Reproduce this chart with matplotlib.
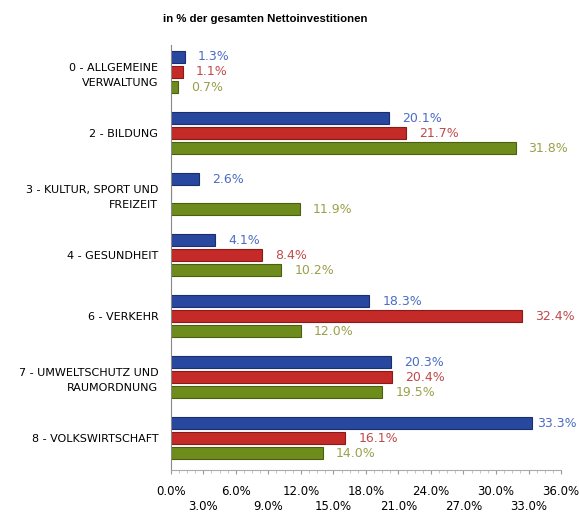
import numpy as np
import matplotlib.pyplot as plt
from matplotlib.ticker import MultipleLocator

categories = [
    "0 - ALLGEMEINE\nVERWALTUNG",
    "2 - BILDUNG",
    "3 - KULTUR, SPORT UND\nFREIZEIT",
    "4 - GESUNDHEIT",
    "6 - VERKEHR",
    "7 - UMWELTSCHUTZ UND\nRAUMORDNUNG",
    "8 - VOLKSWIRTSCHAFT",
]
blue_vals = [1.3, 20.1, 2.6, 4.1, 18.3, 20.3, 33.3]
red_vals = [1.1, 21.7, np.nan, 8.4, 32.4, 20.4, 16.1]
green_vals = [0.7, 31.8, 11.9, 10.2, 12.0, 19.5, 14.0]
x_ticks = [0, 3, 6, 9, 12, 15, 18, 21, 24, 27, 30, 33, 36]
title = "in % der gesamten Nettoinvestitionen"

series = [
    (blue_vals, "#28479e", "#1a2f70", "#4a6cc4", -0.246),
    (red_vals, "#c42a27", "#8a1a18", "#c04a4a", 0.0),
    (green_vals, "#6e8c1c", "#4a6010", "#9aa04a", 0.246),
]

fig = plt.figure(figsize=(5.79, 5.13), dpi=100)
ax = fig.add_axes([0.295, 0.084, 0.674, 0.828])

y = np.arange(len(categories))
for vals, fc, ec, tc, off in series:
    v = np.array(vals, dtype=float)
    ax.barh(y + off, np.nan_to_num(v), height=0.2, color=fc, edgecolor=ec, linewidth=0.8)
    for yi, val in zip(y, v):
        if np.isnan(val):
            continue
        ax.text(min(val + 1.2, 33.75), yi + off, f"{val:.1f}%", color=tc, fontsize=9,
                va="center", ha="left")

ax.set_ylim(6.52, -0.44)
ax.set_xlim(0, 36)
ax.set_yticks(y)
ax.set_yticklabels(categories, fontsize=8, ha="right", linespacing=1.6)
ax.tick_params(axis="y", length=0, pad=9)

# two rows of x tick labels: even steps on top, odd steps below
ax.set_xticks(x_ticks)
ax.set_xticklabels([f"{t:.1f}%" if i % 2 == 0 else "" for i, t in enumerate(x_ticks)], fontsize=8.5)
ax.xaxis.set_minor_locator(MultipleLocator(0.75))
ax.tick_params(axis="x", which="major", length=3, color="#999999", pad=8)
ax.tick_params(axis="x", which="minor", length=2, color="#bbbbbb")

sec = ax.secondary_xaxis("bottom")
sec.set_xticks(x_ticks[1::2])
sec.set_xticklabels([f"{t:.1f}%" for t in x_ticks[1::2]], fontsize=8.5)
sec.tick_params(axis="x", length=0, pad=22)
sec.spines["bottom"].set_visible(False)

for s in ["top", "right"]:
    ax.spines[s].set_visible(False)
ax.spines["left"].set_color("#888888")
ax.spines["bottom"].set_color("#aaaaaa")
ax.spines["bottom"].set_linestyle((0, (2, 1)))

fig.text(265 / 579, 0.963, title, ha="center", va="center", fontsize=8.2,
         fontweight="bold", family="Liberation Sans")

fig.savefig("out.png", dpi=100)
